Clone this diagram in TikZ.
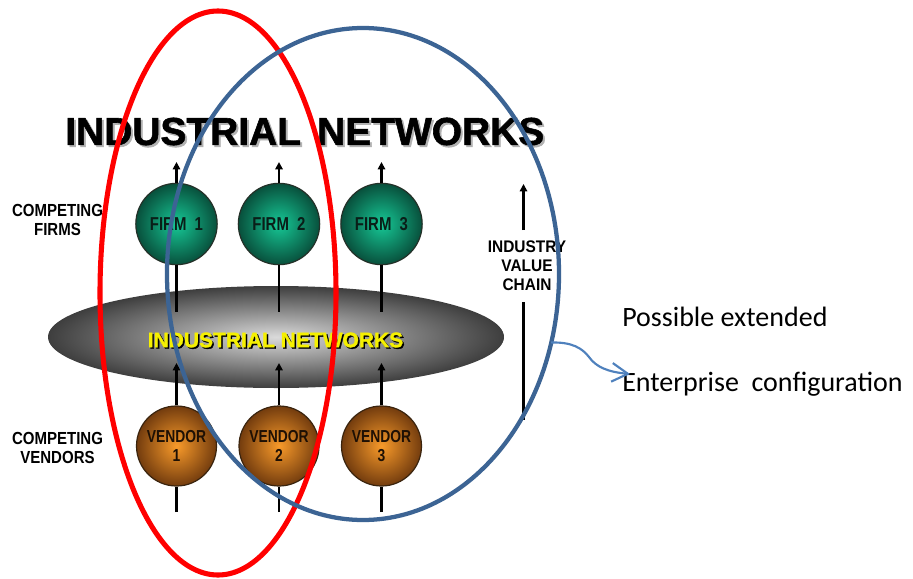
\documentclass[tikz,border=0pt]{standalone}
\usepackage{fontspec}
\usetikzlibrary{shapes.geometric,arrows.meta,calc}
\newfontfamily\arialfont{Liberation Sans}
\newfontfamily\heavyfont{Liberation Sans}[BoldFeatures={FakeBold=1.5}]
\newfontfamily\condfont{Liberation Sans}[FakeStretch=0.86]
\newfontfamily\ballfont{Liberation Sans}[FakeStretch=0.8]
\newfontfamily\valfont{Liberation Sans}[FakeStretch=0.92]
\newfontfamily\calfont{Carlito}
\definecolor{firmin}{RGB}{22,200,150}
\definecolor{firmout}{RGB}{8,80,60}
\definecolor{firmline}{RGB}{36,48,40}
\definecolor{firmtext}{RGB}{10,30,24}
\definecolor{vendin}{RGB}{248,154,42}
\definecolor{vendout}{RGB}{115,60,14}
\definecolor{vendline}{RGB}{58,36,14}
\definecolor{vendtext}{RGB}{30,16,4}
\definecolor{netin}{RGB}{218,218,218}
\definecolor{netout}{RGB}{62,62,62}
\definecolor{netyellow}{RGB}{245,240,0}
\definecolor{redc}{RGB}{255,0,0}
\definecolor{bluec}{RGB}{60,100,148}
\definecolor{arrowblue}{RGB}{79,129,189}
\begin{document}
\begin{tikzpicture}[x=0.75pt,y=-0.75pt,
  firmball/.style={circle, draw=firmline, line width=0.9pt, minimum size=61pt, inner sep=0pt,
    inner color=firmin, outer color=firmout, text=firmtext, align=center,
    font=\ballfont\bfseries\fontsize{14}{15}\selectfont},
  vendball/.style={circle, draw=vendline, line width=0.9pt, minimum size=60pt, inner sep=0pt,
    inner color=vendin, outer color=vendout, text=vendtext, align=center,
    font=\ballfont\bfseries\fontsize{13}{13.8}\selectfont},
  sidelabel/.style={align=center, inner sep=0pt, text=black,
    font=\condfont\bfseries\fontsize{13.1}{14.25}\selectfont},
  vline/.style={line width=1.7pt, black},
  uparrow/.style={vline, -{Triangle[length=5.5pt,width=5.5pt]}},
  ring/.style={ellipse, inner sep=0pt, outer sep=0pt}]
\fill[white] (0,0) rectangle (913,578);
\useasboundingbox (0,0) rectangle (913,578);

% grey network ellipse
\node[ring, minimum width=342pt, minimum height=76.5pt, inner color=netin, outer color=netout] (net) at (276,337) {};

% firms and vendors
\node[firmball] (f1) at (176.5,224) {FIRM~~1};
\node[firmball] (f2) at (279,224) {FIRM~~2};
\node[firmball] (f3) at (381.5,224) {FIRM~~3};
\node[vendball] (v1) at (176.5,446) {VENDOR\\1};
\node[vendball] (v2) at (279,446) {VENDOR\\2};
\node[vendball] (v3) at (381.5,446) {VENDOR\\3};

% free ends
\coordinate (t1) at (176.5,162); \coordinate (t2) at (279,162); \coordinate (t3) at (381.5,162);
\coordinate (b1) at (176.5,312); \coordinate (b2) at (279,312); \coordinate (b3) at (381.5,312);
\coordinate (a1) at (176.5,363); \coordinate (a2) at (279,363); \coordinate (a3) at (381.5,363);
\coordinate (u1) at (176.5,512); \coordinate (u2) at (279,512); \coordinate (u3) at (381.5,512);

\foreach \i in {1,2,3}{
  \draw[uparrow] (f\i.north) -- (t\i);
  \draw[vline] (f\i.south) -- (b\i);
  \draw[uparrow] (v\i.north) -- (a\i);
  \draw[vline] (u\i) -- (v\i.south);
}

% network label
\node[inner sep=0pt, text=black, font=\heavyfont\bfseries\fontsize{15.75}{17}\selectfont] (netshadow) at (277,341.5) {INDUSTRIAL NETWORKS};
\node[inner sep=0pt, text=netyellow, font=\heavyfont\bfseries\fontsize{15.75}{17}\selectfont] (netlabel) at (275.5,340) {INDUSTRIAL NETWORKS};

% title
\node[anchor=west, inner sep=0pt, text=black!30, font=\heavyfont\bfseries\fontsize{29.2}{31}\selectfont] (titleshadow) at (67,133.5) {INDUSTRIAL\hspace{4pt} NETWORKS};
\node[anchor=west, inner sep=0pt, text=black, font=\heavyfont\bfseries\fontsize{29.2}{31}\selectfont] (title) at (65,131.5) {INDUSTRIAL\hspace{4pt} NETWORKS};

% side labels
\node[sidelabel] (cf) at (57.5,220) {COMPETING\\FIRMS};
\node[sidelabel] (cv) at (57.5,448) {COMPETING\\VENDORS};

% industry value chain
\node[align=center, inner sep=0pt, font=\valfont\bfseries\fontsize{12.6}{14.25}\selectfont] (ivc) at (527,266) {INDUSTRY\\VALUE\\CHAIN};
\coordinate (ivctop) at (523.5,184);
\coordinate (ivcupbase) at (523.5,230);
\coordinate (ivclowtop) at (523.5,302);
\coordinate (ivclowbot) at (523.5,420);
\draw[uparrow] (ivcupbase) -- (ivctop);
\draw[vline] (ivclowtop) -- (ivclowbot);

% red and blue rings
\node[ring, draw=redc, line width=3.8pt, minimum width=177pt, minimum height=423pt] (redring) at (218,293) {};
\node[ring, draw=bluec, line width=3.2pt, minimum width=294pt, minimum height=369pt] (bluering) at (363,274) {};

% right texts
\node[anchor=base west, inner sep=0pt, font=\calfont\fontsize{21}{24}\selectfont] (pe) at (622,326) {Possible extended};
\node[anchor=base west, inner sep=0pt, font=\calfont\fontsize{21}{24}\selectfont] (ec) at (622,391.7) {Enterprise~~configuration};

% curved arrow
\coordinate (ectip) at (630,374);
\draw[arrowblue, line width=1.6pt, -{Straight Barb[length=12pt,width=14pt]}]
  (bluering.-20.25) .. controls (572,342) and (582,348) .. (589,357)
  .. controls (596,367) and (608,372) .. (ectip);
\end{tikzpicture}
\end{document}
